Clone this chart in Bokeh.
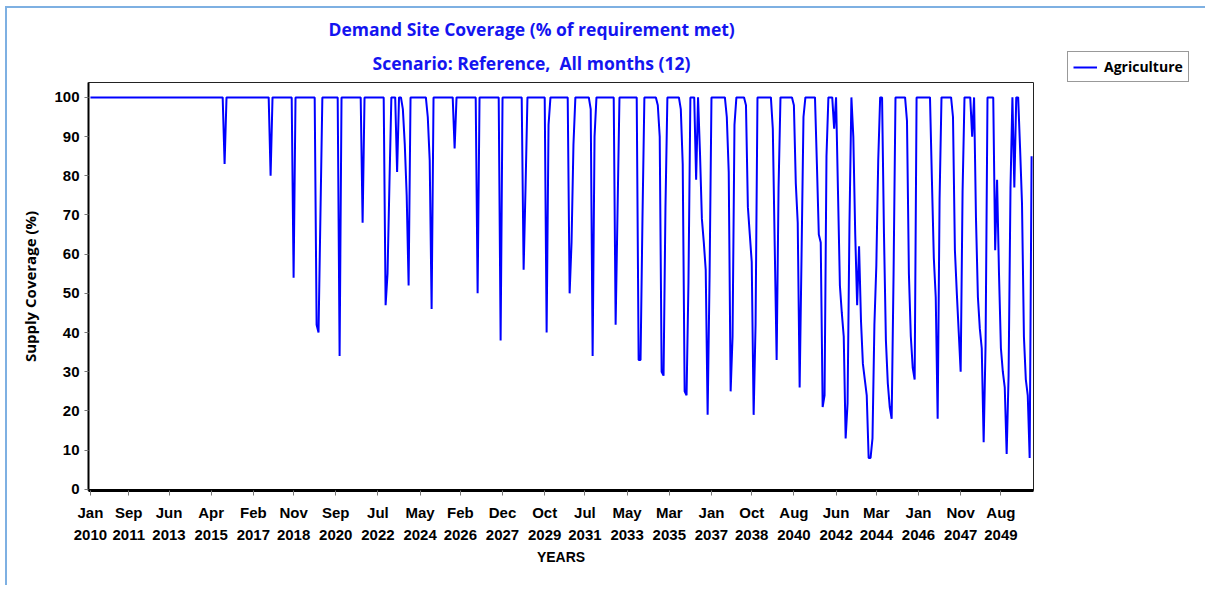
from bokeh.plotting import figure
from bokeh.models import ColumnDataSource, Range1d, FixedTicker, Title, Legend, LegendItem
from bokeh.embed import file_html
from bokeh.resources import INLINE

# Monthly supply coverage (% of requirement met), Jan..Dec for each year
years = list(range(2010, 2051))
cov_2010 = [100, 100, 100, 100, 100, 100, 100, 100, 100, 100, 100, 100]
cov_2011 = [100, 100, 100, 100, 100, 100, 100, 100, 100, 100, 100, 100]
cov_2012 = [100, 100, 100, 100, 100, 100, 100, 100, 100, 100, 100, 100]
cov_2013 = [100, 100, 100, 100, 100, 100, 100, 100, 100, 100, 100, 100]
cov_2014 = [100, 100, 100, 100, 100, 100, 100, 100, 100, 100, 100, 100]
cov_2015 = [100, 100, 100, 100, 100, 100, 100, 100, 100, 100, 83, 100]
cov_2016 = [100, 100, 100, 100, 100, 100, 100, 100, 100, 100, 100, 100]
cov_2017 = [100, 100, 100, 100, 100, 100, 100, 100, 100, 100, 80, 100]
cov_2018 = [100, 100, 100, 100, 100, 100, 100, 100, 100, 100, 54, 100]
cov_2019 = [100, 100, 100, 100, 100, 100, 100, 100, 100, 100, 42, 40]
cov_2020 = [70, 100, 100, 100, 100, 100, 100, 100, 100, 100, 34, 100]
cov_2021 = [100, 100, 100, 100, 100, 100, 100, 100, 100, 100, 68, 100]
cov_2022 = [100, 100, 100, 100, 100, 100, 100, 100, 100, 100, 47, 55]
cov_2023 = [78, 100, 100, 100, 81, 100, 100, 97, 88, 75, 52, 100]
cov_2024 = [100, 100, 100, 100, 100, 100, 100, 100, 95, 84, 46, 100]
cov_2025 = [100, 100, 100, 100, 100, 100, 100, 100, 100, 100, 87, 100]
cov_2026 = [100, 100, 100, 100, 100, 100, 100, 100, 100, 100, 50, 100]
cov_2027 = [100, 100, 100, 100, 100, 100, 100, 100, 100, 100, 38, 100]
cov_2028 = [100, 100, 100, 100, 100, 100, 100, 100, 100, 100, 56, 77]
cov_2029 = [100, 100, 100, 100, 100, 100, 100, 100, 100, 100, 40, 93]
cov_2030 = [100, 100, 100, 100, 100, 100, 100, 100, 100, 100, 50, 63]
cov_2031 = [88, 100, 100, 100, 100, 100, 100, 100, 100, 97, 34, 90]
cov_2032 = [100, 100, 100, 100, 100, 100, 100, 100, 100, 100, 42, 71]
cov_2033 = [100, 100, 100, 100, 100, 100, 100, 100, 100, 100, 33, 33]
cov_2034 = [69, 100, 100, 100, 100, 100, 100, 100, 98, 90, 30, 29]
cov_2035 = [72, 100, 100, 100, 100, 100, 100, 100, 97, 83, 25, 24]
cov_2036 = [53, 100, 100, 100, 79, 100, 86, 69, 63, 56, 19, 54]
cov_2037 = [100, 100, 100, 100, 100, 100, 100, 100, 95, 81, 25, 39]
cov_2038 = [93, 100, 100, 100, 100, 100, 98, 72, 65, 58, 19, 42]
cov_2039 = [100, 100, 100, 100, 100, 100, 100, 100, 92, 62, 33, 77]
cov_2040 = [100, 100, 100, 100, 100, 100, 100, 98, 78, 68, 26, 60]
cov_2041 = [95, 100, 100, 100, 100, 100, 100, 83, 65, 63, 21, 24]
cov_2042 = [85, 100, 100, 100, 92, 100, 76, 52, 45, 39, 13, 22]
cov_2043 = [68, 100, 90, 65, 47, 62, 43, 32, 28, 24, 8, 8]
cov_2044 = [13, 42, 57, 84, 100, 100, 65, 38, 27, 21, 18, 55]
cov_2045 = [100, 100, 100, 100, 100, 100, 94, 55, 39, 31, 28, 100]
cov_2046 = [100, 100, 100, 100, 100, 100, 100, 79, 59, 49, 18, 74]
cov_2047 = [100, 100, 100, 100, 100, 100, 95, 61, 50, 40, 30, 76]
cov_2048 = [100, 100, 100, 100, 90, 100, 69, 49, 41, 36, 12, 37]
cov_2049 = [100, 100, 100, 100, 61, 79, 55, 36, 30, 26, 9, 29]
cov_2050 = [77, 100, 77, 100, 100, 87, 73, 39, 28, 24, 8, 85]

yearly = [cov_2010, cov_2011, cov_2012, cov_2013, cov_2014, cov_2015, cov_2016,
          cov_2017, cov_2018, cov_2019, cov_2020, cov_2021, cov_2022, cov_2023,
          cov_2024, cov_2025, cov_2026, cov_2027, cov_2028, cov_2029, cov_2030,
          cov_2031, cov_2032, cov_2033, cov_2034, cov_2035, cov_2036, cov_2037,
          cov_2038, cov_2039, cov_2040, cov_2041, cov_2042, cov_2043, cov_2044,
          cov_2045, cov_2046, cov_2047, cov_2048, cov_2049, cov_2050]

month_names = ["Jan", "Feb", "Mar", "Apr", "May", "Jun",
               "Jul", "Aug", "Sep", "Oct", "Nov", "Dec"]
tick_months = ["Jan", "Sep", "Jun", "Apr", "Feb", "Nov", "Sep", "Jul", "May", "Feb",
               "Dec", "Oct", "Jul", "May", "Mar", "Jan", "Oct", "Aug", "Jun", "Mar",
               "Jan", "Nov", "Aug"]
tick_years = [2010, 2011, 2013, 2015, 2017, 2018, 2020, 2022, 2024, 2026,
              2027, 2029, 2031, 2033, 2035, 2037, 2038, 2040, 2042, 2044,
              2046, 2047, 2049]

coverage = [v for row in yearly for v in row]
month_idx = list(range(len(coverage)))

tick_pos = [(y - years[0]) * 12 + month_names.index(m) for m, y in zip(tick_months, tick_years)]
tick_text = {pos: f"{m}\n{y}" for pos, m, y in zip(tick_pos, tick_months, tick_years)}

src = ColumnDataSource(data=dict(x=month_idx, y=coverage))

p = figure(frame_width=945, frame_height=408,
           min_border_left=81, min_border_right=162,
           min_border_top=74, min_border_bottom=95,
           x_range=Range1d(-1, len(coverage)), y_range=Range1d(-0.3, 103.8),
           output_backend="svg", toolbar_location=None)
p.styles = {"margin-left": "5px", "margin-top": "6px",
            "border-top": "2px solid #7EB0E2", "border-left": "2px solid #7EB0E2"}
p.background_fill_color = "white"
p.border_fill_color = "white"
p.outline_line_color = "#222222"
p.outline_line_width = 1
p.xgrid.visible = False
p.ygrid.visible = False

r = p.line("x", "y", source=src, line_color="#0000FF", line_width=2)

# Y axis
ya = p.yaxis[0]
ya.ticker = FixedTicker(ticks=list(range(0, 101, 10)))
ya.axis_label = "Supply Coverage (%)"
ya.axis_label_text_font = "Open Sans"
ya.axis_label_text_font_style = "bold"
ya.axis_label_text_font_size = "15px"
ya.axis_label_text_color = "black"
ya.axis_label_standoff = 11
ya.major_label_text_font = "Liberation Sans"
ya.major_label_text_font_style = "bold"
ya.major_label_text_font_size = "15px"
ya.major_label_text_color = "black"
ya.major_label_standoff = 5
ya.axis_line_color = "black"
ya.axis_line_width = 2
ya.major_tick_line_color = "#777777"
ya.major_tick_out = 4
ya.major_tick_in = 0
ya.minor_tick_line_color = None

# X axis
xa = p.xaxis[0]
xa.ticker = FixedTicker(ticks=tick_pos)
xa.major_label_overrides = tick_text
xa.axis_label = "YEARS"
xa.axis_label_text_font = "Liberation Sans"
xa.axis_label_text_font_style = "bold"
xa.axis_label_text_font_size = "14px"
xa.axis_label_text_color = "black"
xa.axis_label_standoff = 3
xa.major_label_text_font = "Liberation Sans Narrow, Liberation Sans"
xa.major_label_text_font_style = "bold"
xa.major_label_text_font_size = "15px"
xa.major_label_text_color = "black"
xa.major_label_text_line_height = 1.3
xa.major_label_standoff = 8
xa.axis_line_color = "black"
xa.axis_line_width = 3
xa.major_tick_line_color = "#777777"
xa.major_tick_out = 5
xa.major_tick_in = 0
xa.minor_tick_line_color = None

# Two-line title (subtitle added first so it sits closest to the plot)
title_color = "#1414F0"
p.add_layout(Title(text="Scenario: Reference,\u00a0 All months (12)", align="left", offset=284,
                   text_font="Open Sans", text_font_style="bold", text_font_size="17.5px",
                   text_color=title_color, standoff=16), "above")
p.add_layout(Title(text="Demand Site Coverage (% of requirement met)", align="left", offset=240,
                   text_font="Open Sans", text_font_style="bold", text_font_size="17.5px",
                   text_color=title_color, standoff=0), "above")

legend = Legend(items=[LegendItem(label="Agriculture", renderers=[r])],
                location=(34, 408), orientation="vertical",
                border_line_color="#333333", border_line_width=1,
                background_fill_color="white", background_fill_alpha=1,
                padding=5, margin=0, spacing=0, label_standoff=7,
                glyph_width=24, glyph_height=18,
                label_text_font="Open Sans", label_text_font_style="bold",
                label_text_font_size="14px", label_text_color="black")
p.add_layout(legend, "right")

open("out.html", "w").write(file_html(p, INLINE))
